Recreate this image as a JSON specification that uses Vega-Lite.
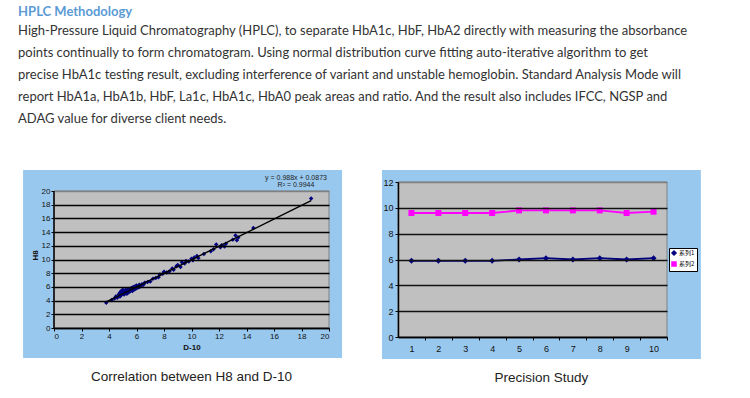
{
  "$schema": "https://vega.github.io/schema/vega-lite/v6.json",
  "background": "white",
  "padding": {"left": 18, "top": 5, "right": 0, "bottom": 0},
  "title": {
    "text": "HPLC Methodology",
    "subtitle": [
      "High-Pressure Liquid Chromatography (HPLC), to separate HbA1c, HbF, HbA2 directly with measuring the absorbance",
      "points continually to form chromatogram. Using normal distribution curve fitting auto-iterative algorithm to get",
      "precise HbA1c testing result, excluding interference of variant and unstable hemoglobin. Standard Analysis Mode will",
      "report HbA1a, HbA1b, HbF, La1c, HbA1c, HbA0 peak areas and ratio. And the result also includes IFCC, NGSP and",
      "ADAG value for diverse client needs."
    ],
    "anchor": "start",
    "frame": "bounds",
    "dx": -5,
    "font": "Lato",
    "fontSize": 13,
    "fontWeight": "bold",
    "color": "#5b9bd5",
    "subtitleFont": "Lato",
    "subtitleFontSize": 13,
    "subtitleColor": "#333333",
    "subtitleLineHeight": 22,
    "subtitlePadding": 6,
    "offset": 44
  },
  "spacing": 38,
  "resolve": {"legend": {"color": "independent", "shape": "independent"}},
  "hconcat": [
    {
      "width": 275,
      "height": 146,
      "title": {
        "text": "Correlation between H8 and D-10",
        "orient": "bottom",
        "anchor": "middle",
        "frame": "group",
        "font": "Liberation Sans",
        "fontSize": 13.5,
        "fontWeight": "normal",
        "color": "#222222",
        "offset": 12
      },
      "layer": [
        {
          "data": {"values": [{}]},
          "mark": {"type": "rect", "fill": "#99c8ee"},
          "encoding": {
            "x": {"datum": -2.25, "type": "quantitative", "scale": {"domain": [0, 20], "nice": false},
              "axis": {"title": "D-10", "values": [0, 2, 4, 6, 8, 10, 12, 14, 16, 18, 20], "grid": false, "zindex": 1, "titlePadding": 3, "labelOverlap": false}},
            "x2": {"datum": 20.95},
            "y": {"datum": -4.38, "type": "quantitative", "scale": {"domain": [0, 21.314], "nice": false},
              "axis": {"title": "H8", "values": [0, 2, 4, 6, 8, 10, 12, 14, 16, 18, 20], "grid": true, "zindex": 1, "gridWidth": 1.6, "domain": false,
                "gridColor": {"condition": {"test": "datum.value >= 20", "value": "#808080"}, "value": "#000000"},
                "titlePadding": 2, "labelOverlap": false}},
            "y2": {"datum": 23.07}
          }
        },
        {
          "data": {"values": [{}]},
          "mark": {"type": "rect", "fill": "#c0c0c0", "stroke": "#808080", "strokeWidth": 1},
          "encoding": {
            "x": {"datum": 0, "type": "quantitative",
              "axis": {"title": "D-10", "values": [0, 2, 4, 6, 8, 10, 12, 14, 16, 18, 20], "grid": false, "zindex": 1, "titlePadding": 3, "labelOverlap": false}},
            "x2": {"datum": 20},
            "y": {"datum": 0, "type": "quantitative",
              "axis": {"title": "H8", "values": [0, 2, 4, 6, 8, 10, 12, 14, 16, 18, 20], "grid": true, "zindex": 1, "gridWidth": 1.6, "domain": false,
                "gridColor": {"condition": {"test": "datum.value >= 20", "value": "#808080"}, "value": "#000000"},
                "titlePadding": 2, "labelOverlap": false}},
            "y2": {"datum": 20}
          }
        },
        {
          "data": {"values": [{}]},
          "mark": {"type": "rule", "color": "#000000", "strokeWidth": 1.5},
          "encoding": {
            "x": {"datum": 0, "type": "quantitative",
              "axis": {"title": "D-10", "values": [0, 2, 4, 6, 8, 10, 12, 14, 16, 18, 20], "grid": false, "zindex": 1, "titlePadding": 3, "labelOverlap": false}},
            "y": {"datum": 0, "type": "quantitative",
              "axis": {"title": "H8", "values": [0, 2, 4, 6, 8, 10, 12, 14, 16, 18, 20], "grid": true, "zindex": 1, "gridWidth": 1.6, "domain": false,
                "gridColor": {"condition": {"test": "datum.value >= 20", "value": "#808080"}, "value": "#000000"},
                "titlePadding": 2, "labelOverlap": false}},
            "y2": {"datum": 20}
          }
        },
        {
          "data": {"name": "corr"},
          "mark": {"type": "point", "shape": "diamond", "filled": true, "color": "#000080", "size": 20, "opacity": 1},
          "encoding": {
            "x": {"field": "D10", "type": "quantitative",
              "axis": {"title": "D-10", "values": [0, 2, 4, 6, 8, 10, 12, 14, 16, 18, 20], "grid": false, "zindex": 1, "titlePadding": 3, "labelOverlap": false}},
            "y": {"field": "H8", "type": "quantitative",
              "axis": {"title": "H8", "values": [0, 2, 4, 6, 8, 10, 12, 14, 16, 18, 20], "grid": true, "zindex": 1, "gridWidth": 1.6, "domain": false,
                "gridColor": {"condition": {"test": "datum.value >= 20", "value": "#808080"}, "value": "#000000"},
                "titlePadding": 2, "labelOverlap": false}}
          }
        },
        {
          "data": {"name": "corr"},
          "transform": [{"regression": "H8", "on": "D10"}],
          "mark": {"type": "line", "color": "#000000", "strokeWidth": 1.4},
          "encoding": {
            "x": {"field": "D10", "type": "quantitative",
              "axis": {"title": "D-10", "values": [0, 2, 4, 6, 8, 10, 12, 14, 16, 18, 20], "grid": false, "zindex": 1, "titlePadding": 3, "labelOverlap": false}},
            "y": {"field": "H8", "type": "quantitative",
              "axis": {"title": "H8", "values": [0, 2, 4, 6, 8, 10, 12, 14, 16, 18, 20], "grid": true, "zindex": 1, "gridWidth": 1.6, "domain": false,
                "gridColor": {"condition": {"test": "datum.value >= 20", "value": "#808080"}, "value": "#000000"},
                "titlePadding": 2, "labelOverlap": false}}
          }
        },
        {
          "data": {"values": [{"label": ["y = 0.988x + 0.0873", "R² = 0.9944"]}]},
          "mark": {"type": "text", "font": "Liberation Sans", "fontSize": 7, "color": "#222222", "align": "center", "baseline": "middle", "lineHeight": 7},
          "encoding": {
            "x": {"datum": 17.6, "type": "quantitative",
              "axis": {"title": "D-10", "values": [0, 2, 4, 6, 8, 10, 12, 14, 16, 18, 20], "grid": false, "zindex": 1, "titlePadding": 3, "labelOverlap": false}},
            "y": {"datum": 21.9, "type": "quantitative",
              "axis": {"title": "H8", "values": [0, 2, 4, 6, 8, 10, 12, 14, 16, 18, 20], "grid": true, "zindex": 1, "gridWidth": 1.6, "domain": false,
                "gridColor": {"condition": {"test": "datum.value >= 20", "value": "#808080"}, "value": "#000000"},
                "titlePadding": 2, "labelOverlap": false}},
            "text": {"field": "label"}
          }
        }
      ]
    },
    {
      "width": 269,
      "height": 155,
      "title": {
        "text": "Precision Study",
        "orient": "bottom",
        "anchor": "middle",
        "frame": "bounds",
        "font": "Liberation Sans",
        "fontSize": 13.5,
        "fontWeight": "normal",
        "color": "#222222",
        "offset": 12
      },
      "layer": [
        {
          "data": {"values": [{}]},
          "mark": {"type": "rect", "fill": "#99c8ee"},
          "encoding": {
            "x": {"datum": -0.095, "type": "quantitative", "scale": {"domain": [0.5, 10.5], "nice": false},
              "axis": {"title": null, "values": [1, 2, 3, 4, 5, 6, 7, 8, 9, 10], "grid": false, "zindex": 1, "tickOffset": 13.45, "labelOffset": -13.45, "labelPadding": 4, "labelOverlap": false, "labelFontSize": 9}},
            "x2": {"datum": 11.76},
            "y": {"datum": -1.7, "type": "quantitative", "scale": {"domain": [0, 12], "nice": false},
              "axis": {"title": null, "values": [0, 2, 4, 6, 8, 10, 12], "grid": true, "zindex": 1, "gridWidth": 1.3, "labelFontSize": 9, "labelPadding": 2,
                "gridColor": {"condition": {"test": "datum.value >= 12", "value": "#808080"}, "value": "#111111"}, "labelOverlap": false}},
            "y2": {"datum": 12.93}
          }
        },
        {
          "data": {"values": [{}]},
          "mark": {"type": "rect", "fill": "#c0c0c0", "stroke": "#808080", "strokeWidth": 1},
          "encoding": {
            "x": {"datum": 0.5, "type": "quantitative",
              "axis": {"title": null, "values": [1, 2, 3, 4, 5, 6, 7, 8, 9, 10], "grid": false, "zindex": 1, "tickOffset": 13.45, "labelOffset": -13.45, "labelPadding": 4, "labelOverlap": false, "labelFontSize": 9}},
            "x2": {"datum": 10.5},
            "y": {"datum": 0, "type": "quantitative",
              "axis": {"title": null, "values": [0, 2, 4, 6, 8, 10, 12], "grid": true, "zindex": 1, "gridWidth": 1.3, "labelFontSize": 9, "labelPadding": 2,
                "gridColor": {"condition": {"test": "datum.value >= 12", "value": "#808080"}, "value": "#111111"}, "labelOverlap": false}},
            "y2": {"datum": 12}
          }
        },
        {
          "data": {"name": "prec"},
          "mark": {"type": "line", "strokeWidth": 1.8},
          "encoding": {
            "x": {"field": "run", "type": "quantitative",
              "axis": {"title": null, "values": [1, 2, 3, 4, 5, 6, 7, 8, 9, 10], "grid": false, "zindex": 1, "tickOffset": 13.45, "labelOffset": -13.45, "labelPadding": 4, "labelOverlap": false, "labelFontSize": 9}},
            "y": {"field": "value", "type": "quantitative",
              "axis": {"title": null, "values": [0, 2, 4, 6, 8, 10, 12], "grid": true, "zindex": 1, "gridWidth": 1.3, "labelFontSize": 9, "labelPadding": 2,
                "gridColor": {"condition": {"test": "datum.value >= 12", "value": "#808080"}, "value": "#111111"}, "labelOverlap": false}},
            "color": {"field": "series", "type": "nominal", "scale": {"domain": ["系列1", "系列2"], "range": ["#000080", "#ff00ff"]},
              "legend": {"title": null, "orient": "none", "legendX": 271, "legendY": 66, "fillColor": "#ffffff", "strokeColor": "#000000", "padding": 2,
                "labelFont": "Noto Sans CJK SC", "labelFontSize": 6, "labelColor": "#000000", "symbolSize": 16, "rowPadding": 1, "labelOffset": 2, "zindex": 2}}
          }
        },
        {
          "data": {"name": "prec"},
          "mark": {"type": "point", "filled": true, "opacity": 1, "size": 36},
          "encoding": {
            "x": {"field": "run", "type": "quantitative",
              "axis": {"title": null, "values": [1, 2, 3, 4, 5, 6, 7, 8, 9, 10], "grid": false, "zindex": 1, "tickOffset": 13.45, "labelOffset": -13.45, "labelPadding": 4, "labelOverlap": false, "labelFontSize": 9}},
            "y": {"field": "value", "type": "quantitative",
              "axis": {"title": null, "values": [0, 2, 4, 6, 8, 10, 12], "grid": true, "zindex": 1, "gridWidth": 1.3, "labelFontSize": 9, "labelPadding": 2,
                "gridColor": {"condition": {"test": "datum.value >= 12", "value": "#808080"}, "value": "#111111"}, "labelOverlap": false}},
            "color": {"field": "series", "type": "nominal", "scale": {"domain": ["系列1", "系列2"], "range": ["#000080", "#ff00ff"]},
              "legend": {"title": null, "orient": "none", "legendX": 271, "legendY": 66, "fillColor": "#ffffff", "strokeColor": "#000000", "padding": 2,
                "labelFont": "Noto Sans CJK SC", "labelFontSize": 6, "labelColor": "#000000", "symbolSize": 16, "rowPadding": 1, "labelOffset": 2, "zindex": 2}},
            "shape": {"field": "series", "type": "nominal", "scale": {"domain": ["系列1", "系列2"], "range": ["diamond", "square"]},
              "legend": {"title": null, "orient": "none", "legendX": 271, "legendY": 66, "fillColor": "#ffffff", "strokeColor": "#000000", "padding": 2,
                "labelFont": "Noto Sans CJK SC", "labelFontSize": 6, "labelColor": "#000000", "symbolSize": 16, "rowPadding": 1, "labelOffset": 2, "zindex": 2}}
          }
        }
      ]
    }
  ],
  "datasets": {
    "corr": [
      {"D10": 3.8, "H8": 3.7}, {"D10": 4.2, "H8": 4.1}, {"D10": 4.4, "H8": 4.3}, {"D10": 4.5, "H8": 4.6},
      {"D10": 4.6, "H8": 4.4}, {"D10": 4.7, "H8": 4.9}, {"D10": 4.8, "H8": 4.6}, {"D10": 4.8, "H8": 5.2},
      {"D10": 4.9, "H8": 4.8}, {"D10": 4.9, "H8": 5.4}, {"D10": 5.0, "H8": 5.0}, {"D10": 5.0, "H8": 5.6},
      {"D10": 5.1, "H8": 4.9}, {"D10": 5.1, "H8": 5.3}, {"D10": 5.2, "H8": 5.1}, {"D10": 5.2, "H8": 5.6},
      {"D10": 5.3, "H8": 5.0}, {"D10": 5.3, "H8": 5.4}, {"D10": 5.4, "H8": 5.2}, {"D10": 5.4, "H8": 5.7},
      {"D10": 5.5, "H8": 5.3}, {"D10": 5.5, "H8": 5.6}, {"D10": 5.6, "H8": 5.5}, {"D10": 5.6, "H8": 5.8},
      {"D10": 5.7, "H8": 5.4}, {"D10": 5.7, "H8": 5.9}, {"D10": 5.8, "H8": 5.6}, {"D10": 5.8, "H8": 6.0},
      {"D10": 5.9, "H8": 5.7}, {"D10": 5.9, "H8": 6.1}, {"D10": 6.0, "H8": 5.8}, {"D10": 6.0, "H8": 6.2},
      {"D10": 6.1, "H8": 6.0}, {"D10": 6.1, "H8": 5.9}, {"D10": 6.2, "H8": 6.3}, {"D10": 6.2, "H8": 6.0},
      {"D10": 6.3, "H8": 6.1}, {"D10": 6.4, "H8": 6.4}, {"D10": 6.5, "H8": 6.3}, {"D10": 6.6, "H8": 6.6},
      {"D10": 6.8, "H8": 6.7}, {"D10": 7.0, "H8": 6.8}, {"D10": 7.2, "H8": 7.2}, {"D10": 7.4, "H8": 7.3},
      {"D10": 7.6, "H8": 7.4}, {"D10": 7.7, "H8": 7.8}, {"D10": 7.9, "H8": 7.9}, {"D10": 8.0, "H8": 8.2},
      {"D10": 8.2, "H8": 8.1}, {"D10": 8.4, "H8": 8.3}, {"D10": 8.6, "H8": 8.7}, {"D10": 8.7, "H8": 8.5},
      {"D10": 8.9, "H8": 9.0}, {"D10": 9.0, "H8": 9.2}, {"D10": 9.2, "H8": 8.9}, {"D10": 9.3, "H8": 9.6},
      {"D10": 9.5, "H8": 9.4}, {"D10": 9.6, "H8": 9.8}, {"D10": 9.8, "H8": 9.7}, {"D10": 10.0, "H8": 10.1},
      {"D10": 10.1, "H8": 9.9}, {"D10": 10.2, "H8": 10.3}, {"D10": 10.4, "H8": 10.5}, {"D10": 10.5, "H8": 10.2},
      {"D10": 10.9, "H8": 10.8}, {"D10": 11.4, "H8": 11.2}, {"D10": 11.6, "H8": 11.5}, {"D10": 11.8, "H8": 12.2},
      {"D10": 12.1, "H8": 11.8}, {"D10": 12.2, "H8": 12.1}, {"D10": 12.4, "H8": 11.9}, {"D10": 12.5, "H8": 12.3},
      {"D10": 13.0, "H8": 12.9}, {"D10": 13.2, "H8": 13.5}, {"D10": 13.3, "H8": 12.8}, {"D10": 13.4, "H8": 13.2},
      {"D10": 14.5, "H8": 14.6}, {"D10": 18.7, "H8": 18.9}
    ],
    "prec": [
      {"run": 1, "value": 5.9, "series": "系列1"}, {"run": 2, "value": 5.9, "series": "系列1"},
      {"run": 3, "value": 5.9, "series": "系列1"}, {"run": 4, "value": 5.9, "series": "系列1"},
      {"run": 5, "value": 6.0, "series": "系列1"}, {"run": 6, "value": 6.1, "series": "系列1"},
      {"run": 7, "value": 6.0, "series": "系列1"}, {"run": 8, "value": 6.1, "series": "系列1"},
      {"run": 9, "value": 6.0, "series": "系列1"}, {"run": 10, "value": 6.1, "series": "系列1"},
      {"run": 1, "value": 9.6, "series": "系列2"}, {"run": 2, "value": 9.6, "series": "系列2"},
      {"run": 3, "value": 9.6, "series": "系列2"}, {"run": 4, "value": 9.6, "series": "系列2"},
      {"run": 5, "value": 9.8, "series": "系列2"}, {"run": 6, "value": 9.8, "series": "系列2"},
      {"run": 7, "value": 9.8, "series": "系列2"}, {"run": 8, "value": 9.8, "series": "系列2"},
      {"run": 9, "value": 9.6, "series": "系列2"}, {"run": 10, "value": 9.7, "series": "系列2"}
    ]
  },
  "config": {
    "view": {"stroke": null},
    "axis": {
      "labelFont": "Liberation Sans", "labelFontSize": 8, "labelColor": "#111111",
      "titleFont": "Liberation Sans", "titleFontSize": 8, "titleFontWeight": "bold", "titleColor": "#111111",
      "domainColor": "#000000", "domainWidth": 1.5, "tickColor": "#000000", "tickSize": 3,
      "labelPadding": 1, "gridColor": "#000000", "zindex": 1
    }
  }
}
